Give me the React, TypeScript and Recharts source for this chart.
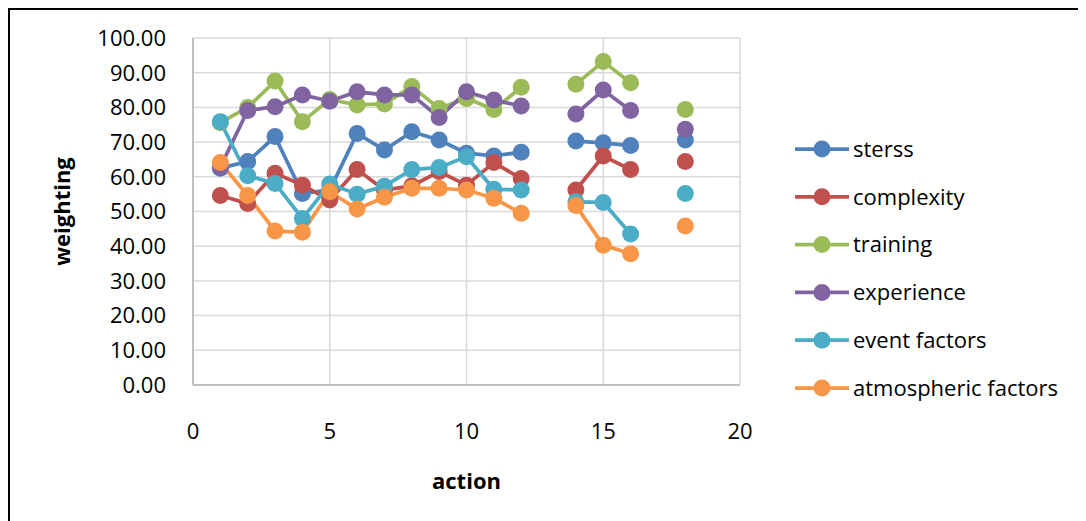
import React from 'react';
import { LineChart, Line, XAxis, YAxis, CartesianGrid, Legend, Label } from 'recharts';

// Action numbers (13 and 17 have no readings, so the lines break there)
const actions = [1, 2, 3, 4, 5, 6, 7, 8, 9, 10, 11, 12, 13, 14, 15, 16, 17, 18];

const sterss = [62.5, 64.4, 71.6, 55.2, 56.2, 72.5, 67.7, 73.0, 70.6, 66.8, 66.0, 67.1, null, 70.3, 69.8, 69.0, null, 70.6];
const complexity = [54.6, 52.3, 61.0, 57.6, 53.3, 62.1, 56.2, 57.4, 61.5, 57.6, 64.1, 59.5, null, 56.2, 66.0, 62.1, null, 64.4];
const training = [75.6, 80.0, 87.6, 75.9, 82.3, 80.7, 81.0, 86.0, 79.7, 82.6, 79.4, 85.8, null, 86.7, 93.2, 87.1, null, 79.4];
const experience = [62.8, 79.1, 80.2, 83.6, 81.8, 84.5, 83.6, 83.6, 77.1, 84.5, 82.1, 80.4, null, 78.1, 85.0, 79.1, null, 73.7];
const eventFactors = [75.9, 60.3, 58.1, 48.0, 57.9, 55.0, 57.3, 62.1, 62.7, 65.8, 56.4, 56.2, null, 52.8, 52.6, 43.5, null, 55.2];
const atmosphericFactors = [64.1, 54.6, 44.4, 44.0, 55.7, 50.7, 54.1, 56.7, 56.7, 56.2, 53.8, 49.5, null, 51.7, 40.3, 37.8, null, 45.8];

const xTicks = [0, 5, 10, 15, 20];
const yTicks = [0, 10, 20, 30, 40, 50, 60, 70, 80, 90, 100];

const seriesDefs = [
  { key: 'sterss', name: 'sterss', color: '#4F81BD', values: sterss },
  { key: 'complexity', name: 'complexity', color: '#C0504D', values: complexity },
  { key: 'training', name: 'training', color: '#9BBB59', values: training },
  { key: 'experience', name: 'experience', color: '#8064A2', values: experience },
  { key: 'eventFactors', name: 'event factors', color: '#4BACC6', values: eventFactors },
  { key: 'atmosphericFactors', name: 'atmospheric factors', color: '#F79646', values: atmosphericFactors },
];

const data = actions.map((a, i) => {
  const row: Record<string, number | null> = { action: a };
  seriesDefs.forEach((s) => {
    row[s.key] = s.values[i];
  });
  return row;
});

const FONT = '"Open Sans", "Noto Sans", sans-serif';
const FS = 22;

const LegendBox = () => (
  <svg width={300} height={280} style={{ display: 'block' }}>
    {seriesDefs.map((s, i) => {
      const cy = 19 + i * 47.8;
      return (
        <g key={s.key}>
          <line x1={5} x2={59} y1={cy} y2={cy} stroke={s.color} strokeWidth={3.75} />
          <circle cx={32} cy={cy} r={8.5} fill={s.color} />
          <text x={63} y={cy} dy="0.355em" fontSize={FS} fontFamily={FONT} fill="#000">
            {s.name}
          </text>
        </g>
      );
    })}
  </svg>
);

const YTitle = (props: any) => {
  const vb = props.viewBox || {};
  const cx = 52;
  const cy = (vb.y ?? 28) + (vb.height ?? 347) / 2;
  return (
    <text
      x={cx}
      y={cy}
      transform={`rotate(-90, ${cx}, ${cy})`}
      textAnchor="middle"
      dy="0.355em"
      fontSize={FS}
      fontWeight="bold"
      fontFamily={FONT}
      fill="#000"
    >
      weighting
    </text>
  );
};

const XTitle = (props: any) => {
  const vb = props.viewBox || {};
  const cx = (vb.x ?? 183) + (vb.width ?? 547) / 2;
  const cy = (vb.y ?? 375) + 96;
  return (
    <text x={cx} y={cy} textAnchor="middle" dy="0.355em" fontSize={FS} fontWeight="bold" fontFamily={FONT} fill="#000">
      action
    </text>
  );
};

export default function App() {
  return (
    <div
      style={{
        width: 1078,
        height: 513,
        borderTop: '2px solid #000',
        borderLeft: '2px solid #000',
        position: 'relative',
        fontFamily: FONT,
      }}
    >
      <style>{`body{overflow:hidden}`}</style>
      <LineChart
        width={1076}
        height={511}
        data={data}
        margin={{ top: 28, right: 46, bottom: 0, left: 0 }}
      >
        <CartesianGrid stroke="#d9d9d9" strokeWidth={1.5} />
        <XAxis
          dataKey="action"
          type="number"
          domain={[0, 20]}
          ticks={xTicks}
          interval={0}
          height={136}
          tickSize={0}
          tickMargin={38}
          axisLine={{ stroke: '#bfbfbf', strokeWidth: 2 }}
          tick={{ fontSize: FS, fill: '#000', fontFamily: FONT }}
        >
          <Label content={<XTitle />} />
        </XAxis>
        <YAxis
          type="number"
          domain={[0, 100]}
          ticks={yTicks}
          interval={0}
          width={183}
          tickSize={0}
          tickMargin={27}
          tickFormatter={(v: number) => v.toFixed(2)}
          axisLine={{ stroke: '#bfbfbf', strokeWidth: 2 }}
          tick={{ fontSize: FS, fill: '#000', fontFamily: FONT }}
        >
          <Label content={<YTitle />} />
        </YAxis>
        <Legend
          layout="vertical"
          align="right"
          verticalAlign="top"
          content={<LegendBox />}
          wrapperStyle={{ width: 300, height: 280, left: 780, top: 120 }}
        />
        {seriesDefs.map((s) => (
          <Line
            key={s.key}
            dataKey={s.key}
            name={s.name}
            stroke={s.color}
            strokeWidth={3.75}
            dot={{ r: 8.5, fill: s.color, stroke: s.color, strokeWidth: 0 }}
            activeDot={false}
            connectNulls={false}
            isAnimationActive={false}
          />
        ))}
      </LineChart>
    </div>
  );
}
